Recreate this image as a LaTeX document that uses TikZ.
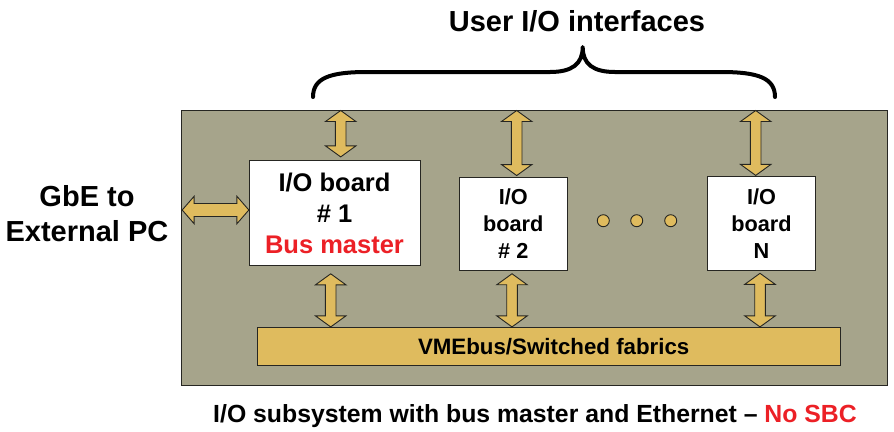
\documentclass[tikz,border=0pt]{standalone}
\usepackage{fontspec}
\setmainfont{Liberation Sans}
\usetikzlibrary{calc}

\definecolor{panel}{RGB}{166,164,139}
\definecolor{gold}{RGB}{223,187,94}
\definecolor{alert}{RGB}{236,32,38}
\definecolor{edge}{RGB}{38,38,34}

% bold text at a given size / line pitch (in bp)
\newcommand\bfs[2]{\fontsize{#1bp}{#2bp}\selectfont\bfseries}

% fat double arrows: head half-width, shaft half-width, head length
\def\hwv{15.2}\def\swv{5.3}\def\hlv{11}
\def\hwh{13.8}\def\swh{6.5}\def\hlh{12}

% vertical double arrow from #1 (upper tip) to #2 (lower tip)
\newcommand\vfat[2]{%
  \draw[fat] (#1) -- ($(#1)+(-\hwv,\hlv)$) -- ($(#1)+(-\swv,\hlv)$)
    -- ($(#2)+(-\swv,-\hlv)$) -- ($(#2)+(-\hwv,-\hlv)$) -- (#2)
    -- ($(#2)+(\hwv,-\hlv)$) -- ($(#2)+(\swv,-\hlv)$)
    -- ($(#1)+(\swv,\hlv)$) -- ($(#1)+(\hwv,\hlv)$) -- cycle;}
% horizontal double arrow from #1 (left tip) to #2 (right tip)
\newcommand\hfat[2]{%
  \draw[fat] (#1) -- ($(#1)+(\hlh,-\hwh)$) -- ($(#1)+(\hlh,-\swh)$)
    -- ($(#2)+(-\hlh,-\swh)$) -- ($(#2)+(-\hlh,-\hwh)$) -- (#2)
    -- ($(#2)+(-\hlh,\hwh)$) -- ($(#2)+(-\hlh,\swh)$)
    -- ($(#1)+(\hlh,\swh)$) -- ($(#1)+(\hlh,\hwh)$) -- cycle;}

\tikzset{
  fat/.style={fill=gold, draw=edge, line width=0.9bp, line join=miter},
  panelbox/.style={draw=edge, fill=panel, line width=1bp, inner sep=0pt},
  board/.style={draw=edge, fill=white, line width=0.9bp, inner sep=0pt, align=center},
  busbar/.style={draw=edge, fill=gold, line width=0.9bp, inner sep=0pt},
  dot/.style={circle, draw=edge, fill=gold, line width=0.9bp, minimum size=12bp, inner sep=0pt},
  label/.style={inner sep=0pt, align=center},
}

\begin{document}
\begin{tikzpicture}[x=1bp, y=-1bp]
\useasboundingbox (0,0) rectangle (894,431);

% chassis
\node[panelbox, minimum width=705.6bp, minimum height=275bp] (sys) at (534.5,247.5) {};

% boards
\node[board, minimum width=171bp, minimum height=104.3bp, font=\bfs{25.5}{31}] (b1) at (334.5,212.9)
  {I/O board\\\# 1\\\textcolor{alert}{Bus master}};
\node[board, minimum width=108bp, minimum height=93bp, font=\bfs{21.7}{27}] (b2) at (513.3,223.5)
  {I/O\\board\\\# 2};
\node[board, minimum width=108.4bp, minimum height=93.3bp, font=\bfs{21.7}{27}] (bn) at (761.5,223.5)
  {I/O\\board\\N};

% ellipsis between board 2 and board N
\node[dot] (d1) at (603.3,220.7) {};
\node[dot] (d2) at (636.7,220.7) {};
\node[dot] (d3) at (670.7,220.7) {};

% backplane
\node[busbar, minimum width=582.7bp, minimum height=37.7bp, font=\bfs{22.3}{26}] (bus) at (548.7,346.2)
  {\hspace*{10bp}VMEbus/Switched fabrics};

% user I/O links (top)
\coordinate (t1b) at ($(b1.north)+(6.2,-3.4)$);
\coordinate (t1a) at ($(t1b |- sys.north)+(0,1)$);
\coordinate (t2b) at ($(b2.north)+(3.4,-1)$);
\coordinate (t2a) at ($(t2b |- sys.north)+(0,1)$);
\coordinate (tnb) at ($(bn.north)+(-5.8,-1)$);
\coordinate (tna) at ($(tnb |- sys.north)+(0,1)$);
\vfat{t1a}{t1b}
\vfat{t2a}{t2b}
\vfat{tna}{tnb}

% backplane links (bottom)
\coordinate (s1a) at ($(b1.south)+(-3.8,8.3)$);
\coordinate (s1b) at (s1a |- bus.north);
\coordinate (s2a) at ($(b2.south)+(-1.3,3.3)$);
\coordinate (s2b) at (s2a |- bus.north);
\coordinate (sna) at ($(bn.south)+(-1.5,2.7)$);
\coordinate (snb) at (sna |- bus.north);
\vfat{s1a}{s1b}
\vfat{s2a}{s2b}
\vfat{sna}{snb}

% Ethernet link
\coordinate (eb) at ($(b1.west)+(0.3,-2.9)$);
\coordinate (ea) at ($(eb -| sys.west)+(1,0)$);
\hfat{ea}{eb}

% captions
\node[label, font=\bfs{29}{35}] (gbe) at (87,214) {GbE to\\External PC};
\node[label, anchor=base, font=\bfs{29}{34}] (title) at (577,31) {User I/O interfaces};
\node[label, anchor=base, font=\bfs{24.8}{30}] (caption) at (535,422.5)
  {I/O subsystem with bus master and Ethernet -- \textcolor{alert}{No SBC}};

% curly brace over the user I/O links
\draw[line width=4bp, line cap=round, line join=round]
  (313,97) .. controls (313,78) and (330,72) .. (367,72)
  -- (550,72) .. controls (572,72) and (582.7,64) .. (582.7,47)
  .. controls (582.7,64) and (593,72) .. (615,72)
  -- (721,72) .. controls (758,72) and (775,78) .. (775,97);
\end{tikzpicture}
\end{document}
